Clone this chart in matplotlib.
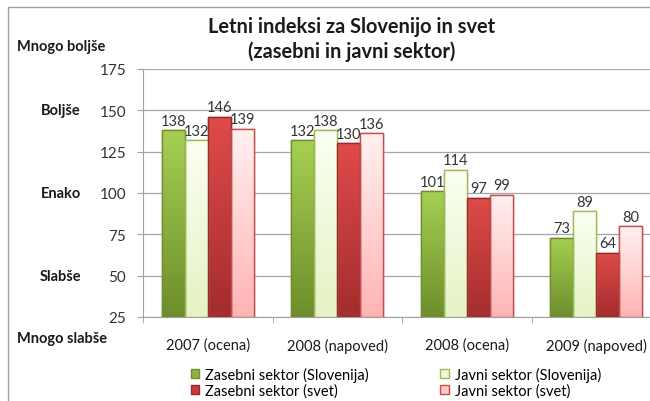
import numpy as np
import matplotlib
matplotlib.use("Agg")
import matplotlib.pyplot as plt
from matplotlib.patches import Rectangle
from matplotlib.colors import LinearSegmentedColormap

plt.rcParams['font.family'] = ['Lato', 'DejaVu Sans']

categories = ['2007 (ocena)', '2008 (napoved)', '2008 (ocena)', '2009 (napoved)']
zasebni_slo = [138, 132, 101, 73]
javni_slo = [132, 138, 114, 89]
zasebni_svet = [146, 130, 97, 64]
javni_svet = [139, 136, 99, 80]

# name, values, legend colour, edge, gradient top, gradient bottom
series = [
    ('Zasebni sektor (Slovenija)', zasebni_slo, '#8cb43c', '#6f8f2e', '#a6cf52', '#6e8e2c'),
    ('Javni sektor (Slovenija)', javni_slo, '#eef8d8', '#9bbb59', '#fbfff2', '#e4f3c4'),
    ('Zasebni sektor (svet)', zasebni_svet, '#cc3b3b', '#9a2a2a', '#e04a4a', '#a42d2d'),
    ('Javni sektor (svet)', javni_svet, '#ffc8c8', '#c0504d', '#fff0f0', '#ffb4b4'),
]

side_labels = [('Mnogo boljše', 189), ('Boljše', 150), ('Enako', 100),
               ('Slabše', 50), ('Mnogo slabše', 12)]

fig = plt.figure(figsize=(6.5, 4.02), dpi=100)
fig.patch.set_facecolor('white')
# chart frame
fig.add_artist(Rectangle((8 / 650, -0.05), 1.0, 1 - 8 / 402 + 0.05,
                         transform=fig.transFigure, fill=False,
                         edgecolor='#a0a0a0', lw=1.0))

ax = fig.add_axes([143 / 650, 84 / 402, 518 / 650, 248 / 402])
ax.set_ylim(25, 175)
ax.set_xlim(-0.5, len(categories) - 0.5)
x = np.arange(len(categories))
w = 0.178
handles = []
for k, (name, vals, fc, ec, ctop, cbot) in enumerate(series):
    pos = x + (k - 1.5) * w
    b = ax.bar(pos, np.array(vals) - 25, w, bottom=25, color=fc,
               edgecolor=ec, lw=1.0, label=name, zorder=3)
    handles.append(b)
    cmap = LinearSegmentedColormap.from_list(name, [cbot, ctop])
    grad = np.linspace(0, 1, 64).reshape(-1, 1)
    for rect, p, v in zip(b.patches, pos, vals):
        im = ax.imshow(grad, cmap=cmap, origin='lower', aspect='auto',
                       extent=(p - w / 2, p + w / 2, 25, v), zorder=3.5,
                       interpolation='bicubic')
        im.set_clip_path(rect)
        ax.add_patch(Rectangle((p - w / 2, 25), w, v - 25, fill=False,
                               edgecolor=ec, lw=1.0, zorder=3.6))
        ax.text(p, v + 1.5, str(v), ha='center', va='bottom',
                fontsize=10.5, color='#333333', zorder=4)
ax.set_xlim(-0.5, len(categories) - 0.5)
ax.set_ylim(25, 175)

ax.set_yticks([25, 50, 75, 100, 125, 150, 175])
ax.set_xticks(x)
ax.set_xticklabels(categories, fontsize=10.5, color='#1a1a1a')
ax.set_xticks(np.arange(len(categories) + 1) - 0.5, minor=True)
ax.tick_params(axis='x', which='major', length=0, pad=15)
ax.tick_params(axis='x', which='minor', length=4, color='#a0a0a0')
ax.tick_params(axis='y', length=4, color='#a0a0a0', labelsize=11,
               labelcolor='#333333', pad=8)
ax.yaxis.grid(True, color='#a6a6a6', lw=0.9, zorder=0)
for s in ['top', 'right']:
    ax.spines[s].set_visible(False)
for s in ['left', 'bottom']:
    ax.spines[s].set_color('#a0a0a0')

for txt, v in side_labels:
    yy = ax.transData.transform((0, v))[1]
    if 'Mnogo' in txt:
        fig.text(17 / 650, yy / fig.dpi / 4.02, txt, ha='left', va='center',
                 fontsize=10.5, fontweight='bold', color='#1a1a1a')
    else:
        fig.text(61 / 650, yy / fig.dpi / 4.02, txt, ha='center', va='center',
                 fontsize=10.5, fontweight='bold', color='#1a1a1a')

t1 = fig.text(352 / 650, 375 / 402, 'Letni indeksi za Slovenijo in svet',
              ha='center', va='center', fontsize=15, fontweight='bold',
              color='#1a1a1a')
t2 = fig.text(352 / 650, 350 / 402, '(zasebni in javni sektor)',
              ha='center', va='center', fontsize=15, fontweight='bold',
              color='#1a1a1a')
# fit title width to ~287 px
r = fig.canvas.get_renderer()
width = t1.get_window_extent(r).width
fs = 15 * 287 / width
t1.set_fontsize(fs)
t2.set_fontsize(fs)

order = [handles[0], handles[2], handles[1], handles[3]]
fig.legend(order, [h.get_label() for h in order], ncol=2,
           loc='upper left', bbox_to_anchor=(179 / 650, 46 / 402),
           frameon=False, fontsize=10.5, handlelength=0.6, handleheight=0.6,
           handletextpad=0.4, columnspacing=4.9, labelspacing=0.12,
           borderpad=0.3)

fig.savefig('out.png', dpi=100)
